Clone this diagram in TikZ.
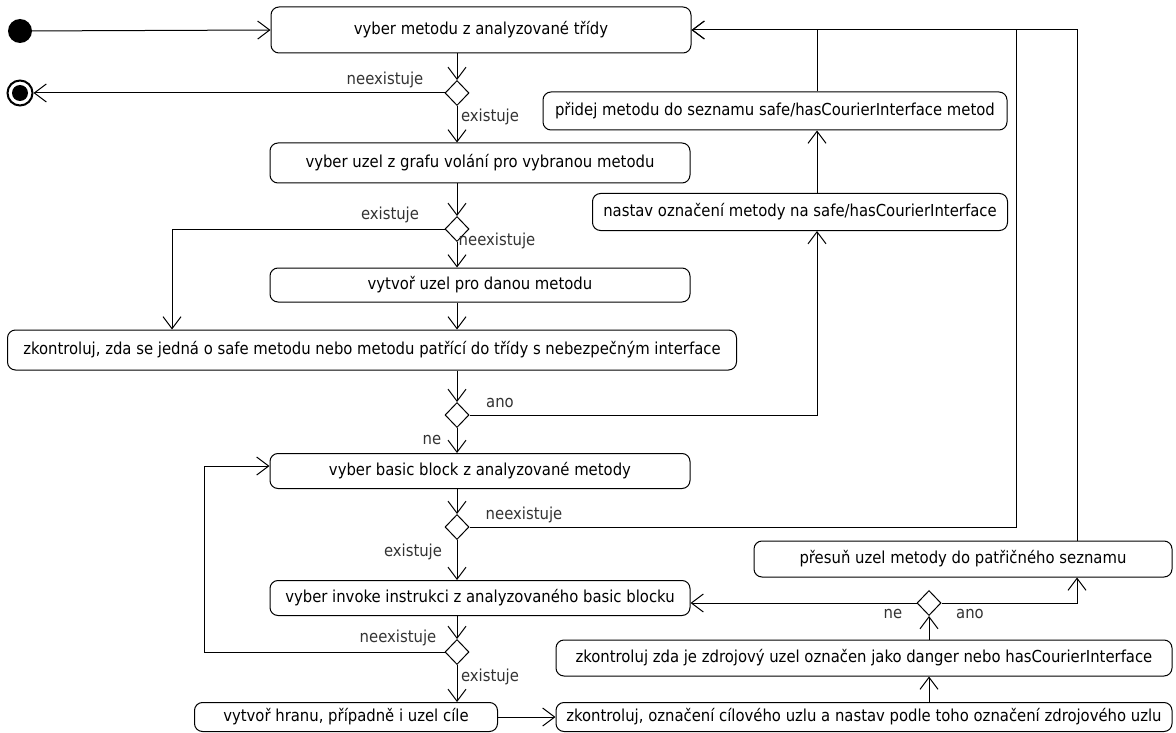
\documentclass[tikz,border=0pt]{standalone}
\usepackage{fontspec}
\setmainfont{DejaVu Sans Condensed}
\usetikzlibrary{arrows.meta,shapes.geometric}

\begin{document}
\begin{tikzpicture}[x=1pt,y=-1pt,
	every node/.style={font=\fontsize{16.5}{19}\selectfont},
	akce/.style={draw,rounded corners=8pt,line width=1pt,inner sep=0pt},
	rozhod/.style={draw,diamond,line width=1pt,minimum width=24pt,minimum height=25pt,inner sep=0pt},
	popis/.style={text=black!80,inner sep=0pt},
	tok/.style={line width=1pt,-{Straight Barb[length=12pt,width=18pt]}},
	hrana/.style={line width=1pt}]
\useasboundingbox (0,0) rectangle (1176,733);
% start a konec
\node[circle,fill,minimum size=24pt,inner sep=0pt] (start) at (20,31) {};
\node[circle,draw,line width=2pt,minimum size=25pt,inner sep=0pt] (konec) at (20,93) {};
\node[circle,fill,minimum size=16pt,inner sep=0pt] (konecIn) at (konec) {};
% akce
\node[akce,minimum width=420pt,minimum height=46pt] (m1) at (481,30) {vyber metodu z analyzované třídy};
\node[akce,minimum width=420pt,minimum height=40pt] (m2) at (480,163) {vyber uzel z grafu volání pro vybranou metodu};
\node[akce,minimum width=420pt,minimum height=34pt] (m3) at (480,285) {vytvoř uzel pro danou metodu};
\node[akce,minimum width=729pt,minimum height=40pt] (m4) at (372,350) {zkontroluj, zda se jedná o safe metodu nebo metodu patřící do třídy s nebezpečným interface};
\node[akce,minimum width=420pt,minimum height=35pt] (m5) at (480,471) {vyber basic block z analyzované metody};
\node[akce,minimum width=420pt,minimum height=35pt] (m6) at (480,598) {vyber invoke instrukci z analyzovaného basic blocku};
\node[akce,minimum width=303pt,minimum height=29pt] (m7) at (346,717) {vytvoř hranu, případně i uzel cíle};
\node[akce,minimum width=616pt,minimum height=29pt] (m8) at (864,717) {zkontroluj, označení cílového uzlu a nastav podle toho označení zdrojového uzlu};
\node[akce,minimum width=616pt,minimum height=36pt] (m9) at (864,658) {zkontroluj zda je zdrojový uzel označen jako danger nebo hasCourierInterface};
\node[akce,minimum width=418pt,minimum height=36pt] (m10) at (963,559) {přesuň uzel metody do patřičného seznamu};
\node[akce,minimum width=415pt,minimum height=37pt] (m11) at (800,212) {nastav označení metody na safe/hasCourierInterface};
\node[akce,minimum width=464pt,minimum height=38pt] (m12) at (775,111) {přidej metodu do seznamu safe/hasCourierInterface metod};
% rozhodovani
\node[rozhod] (d1) at (457,93) {};
\node[rozhod] (d2) at (457,229) {};
\node[rozhod] (d3) at (457,415) {};
\node[rozhod] (d4) at (457,527) {};
\node[rozhod] (d5) at (457,652) {};
\node[rozhod] (d6) at (929,603) {};
\coordinate (roh1) at (1016,30);
% popisky
\node[popis] (l1) at (385,80) {neexistuje};
\node[popis] (l2) at (490,117) {existuje};
\node[popis] (l3) at (390,215) {existuje};
\node[popis] (l4) at (497,241) {neexistuje};
\node[popis] (l5) at (500,403) {ano};
\node[popis] (l6) at (432,440) {ne};
\node[popis] (l7) at (524,515) {neexistuje};
\node[popis] (l8) at (413,552) {existuje};
\node[popis] (l9) at (398,638) {neexistuje};
\node[popis] (l10) at (490,677) {existuje};
\node[popis] (l11) at (893,614) {ne};
\node[popis] (l12) at (970,614) {ano};
% hrany
\draw[tok] (start) -- (m1.west);
\draw[tok] (m1.south -| d1) -- (d1.north);
\draw[tok] (d1.west) -- (konec.east);
\draw[tok] (d1.south) -- (m2.north -| d1);
\draw[tok] (m2.south -| d2) -- (d2.north);
\draw[tok] (d2.west) -| ([xshift=-200pt]m4.north);
\draw[tok] (d2.south) -- (m3.north -| d2);
\draw[tok] (m3.south -| d2) -- (m4.north -| d2);
\draw[tok] (m4.south -| d3) -- (d3.north);
\draw[tok] (d3.east) -| ([xshift=17pt]m11.south);
\draw[tok] ([xshift=17pt]m11.north) -- ([xshift=42pt]m12.south);
\draw[tok] ([xshift=42pt]m12.north) |- (m1.east);
\draw[tok] (d3.south) -- (m5.north -| d3);
\draw[tok] (m5.south -| d4) -- (d4.north);
\draw[hrana] (d4.east) -| (roh1);
\draw[tok] (d4.south) -- (m6.north -| d4);
\draw[tok] (m6.south -| d5) -- (d5.north);
\draw[tok] (d5.west) -| ([xshift=-65pt,yshift=5pt]m5.west) -- ([yshift=5pt]m5.west);
\draw[tok] (d5.south) -- (m7.north -| d5);
\draw[tok] (m7.east) -- (m8.west);
\draw[tok] (m8.north -| d6) -- (m9.south -| d6);
\draw[tok] (m9.north -| d6) -- (d6.south);
\draw[tok] (d6.west) -- (d6 -| m6.east);
\draw[tok] (d6.east) -| ([xshift=114pt]m10.south);
\draw[tok] ([xshift=114pt]m10.north) |- (m1.east);
\end{tikzpicture}
\end{document}
